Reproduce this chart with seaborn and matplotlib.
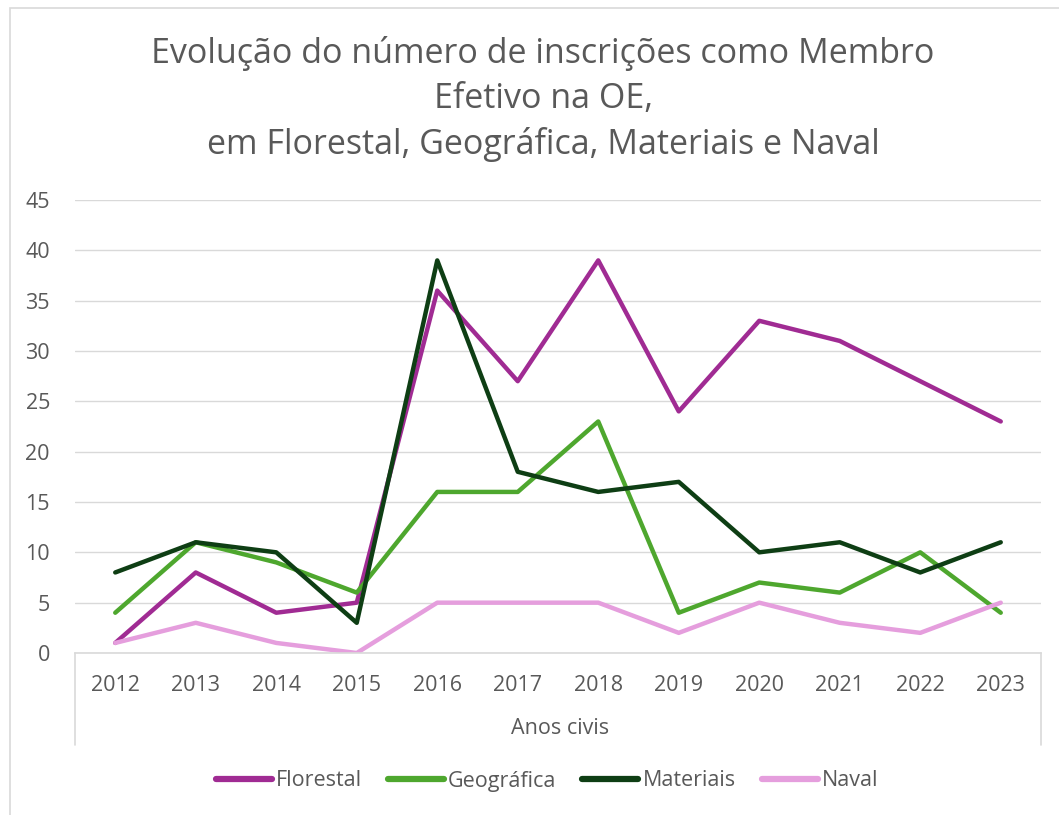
import matplotlib
matplotlib.use("Agg")
import matplotlib.pyplot as plt
import seaborn as sns
import pandas as pd
from matplotlib.lines import Line2D
from matplotlib.patches import Rectangle

years = [2012, 2013, 2014, 2015, 2016, 2017, 2018, 2019, 2020, 2021, 2022, 2023]
florestal = [1, 8, 4, 5, 36, 27, 39, 24, 33, 31, 27, 23]
geografica = [4, 11, 9, 6, 16, 16, 23, 4, 7, 6, 10, 4]
materiais = [8, 11, 10, 3, 39, 18, 16, 17, 10, 11, 8, 11]
naval = [1, 3, 1, 0, 5, 5, 5, 2, 5, 3, 2, 5]
series_names = ["Florestal", "Geográfica", "Materiais", "Naval"]
colors = ["#A02B93", "#4EA72E", "#0E3E14", "#E59EDD"]
yticks = [0, 5, 10, 15, 20, 25, 30, 35, 40, 45]

df = pd.DataFrame({
    "Ano": years * 4,
    "Valor": florestal + geografica + materiais + naval,
    "Série": sum([[n] * len(years) for n in series_names], []),
})

sns.set_theme(style="white")
plt.rcParams["font.family"] = ["Open Sans", "DejaVu Sans"]
txt = "#595959"
fs = 15.5

fig = plt.figure(figsize=(10.59, 8.15), dpi=100)
ax = fig.add_axes([75 / 1059, 1 - 653 / 815, (1041 - 75) / 1059, (653 - 200) / 815])

sns.lineplot(data=df, x="Ano", y="Valor", hue="Série", palette=colors,
             hue_order=series_names, linewidth=3.2, ax=ax, legend=False,
             solid_capstyle="round", solid_joinstyle="round")

ax.set_xlim(years[0] - 0.5, years[-1] + 0.5)
ax.set_ylim(0, 45)
ax.set_yticks(yticks)
ax.set_xticks(years)
ax.set_xticklabels([str(y) for y in years])
ax.grid(axis="y", color="#D9D9D9", linewidth=1)
ax.grid(axis="x", visible=False)
for s in ["top", "right", "left"]:
    ax.spines[s].set_visible(False)
ax.spines["bottom"].set_color("#D9D9D9")
ax.spines["bottom"].set_linewidth(1.2)
ax.tick_params(axis="both", length=0, labelsize=fs, colors=txt)
ax.tick_params(axis="x", pad=16)
ax.tick_params(axis="y", pad=18)
ax.set_xlabel("")
ax.set_ylabel("")

# category box lines
for xp in [75, 1041]:
    fig.add_artist(Line2D([xp / 1059, xp / 1059], [1 - 653 / 815, 1 - 745 / 815],
                          color="#D9D9D9", linewidth=1.2))
fig.text(560 / 1059, 1 - 729 / 815, "Anos civis", ha="center", va="center",
         fontsize=fs, color=txt)

# chart border
fig.add_artist(Rectangle((10 / 1059, -0.1), 1.2, 1 - 8 / 815 + 0.1,
                         fill=False, edgecolor="#D9D9D9", linewidth=1.2))

fig.text(543 / 1059, 1 - 99 / 815,
         "Evolução do número de inscrições como Membro\nEfetivo na OE,\nem Florestal, Geográfica, Materiais e Naval",
         ha="center", va="center", fontsize=24.5, color=txt, linespacing=1.4)

handles = [Line2D([0], [0], color=c, linewidth=4.5, solid_capstyle="round") for c in colors]
fig.legend(handles, series_names, loc="center", bbox_to_anchor=(547 / 1059, 1 - 781 / 815),
           ncol=4, frameon=False, fontsize=fs, handlelength=2.6, handletextpad=0.2,
           columnspacing=1.2, labelcolor=txt)

fig.savefig("out.png", dpi=100)
